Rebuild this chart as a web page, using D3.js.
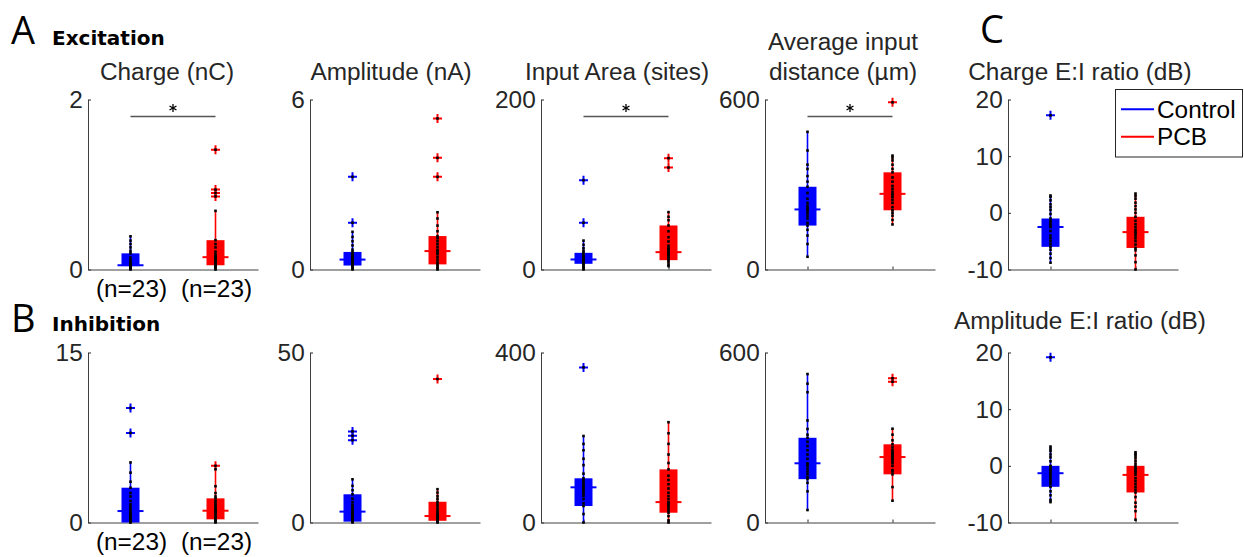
<!DOCTYPE html>
<html>
<head>
<meta charset="utf-8">
<script src="https://cdn.jsdelivr.net/npm/d3@7"></script>
<style>
  body { margin: 0; background: #fff; }
</style>
</head>
<body>
<script>

// groups
var groups = ["Control", "PCB"];
var colors = ["#0000ff", "#ff0000"];

// titles over each column, tick values, significance bar level (null = none)
var titlesExc = [["Charge (nC)"], ["Amplitude (nA)"], ["Input Area (sites)"], ["Average input", "distance (µm)"], ["Charge E:I ratio (dB)"]];
var titlesInh = [[], [], [], [], ["Amplitude E:I ratio (dB)"]];
var ticksExc = [[0, 2], [0, 6], [0, 200], [0, 600], [-10, 0, 10, 20]];
var ticksInh = [[0, 15], [0, 50], [0, 400], [0, 600], [-10, 0, 10, 20]];
var sigExc = [1.8, null, 180, 540, null];
var sigInh = [null, null, null, null, null];
var nLabels = ["(n=23)", "(n=23)"];

// box stats per group: [whisker low, q1, median, q3, whisker high]
// points per group (23 cells each), outliers are the ones outside the whiskers

// --- Excitation
var excChargeBox = [[0, 0.04, 0.05, 0.19, 0.39], [0, 0.05, 0.145, 0.345, 0.69]];
var excChargePts = [
  [0, 0.01, 0.02, 0.02, 0.03, 0.04, 0.04, 0.045, 0.05, 0.05, 0.05, 0.05, 0.06, 0.07, 0.09, 0.11, 0.14, 0.19, 0.22, 0.26, 0.30, 0.34, 0.39],
  [0, 0.02, 0.03, 0.04, 0.05, 0.06, 0.08, 0.10, 0.12, 0.13, 0.14, 0.145, 0.16, 0.18, 0.21, 0.26, 0.30, 0.345, 0.69, 0.86, 0.90, 0.94, 1.41]
];

var excAmpBox = [[0, 0.14, 0.35, 0.62, 1.33], [0, 0.18, 0.65, 1.18, 2.02]];
var excAmpPts = [
  [0, 0.05, 0.1, 0.14, 0.18, 0.22, 0.26, 0.3, 0.33, 0.35, 0.36, 0.4, 0.45, 0.5, 0.55, 0.62, 0.7, 0.85, 1.0, 1.15, 1.33, 1.65, 3.27],
  [0, 0.05, 0.12, 0.18, 0.25, 0.35, 0.45, 0.55, 0.6, 0.65, 0.7, 0.8, 0.9, 1.0, 1.1, 1.18, 1.35, 1.55, 1.8, 2.02, 3.27, 3.94, 5.33]
];

var excAreaBox = [[0, 6.7, 11.8, 19.6, 34], [4, 11, 20.4, 51.8, 67.5]];
var excAreaPts = [
  [0, 2, 3, 5, 6.7, 7, 8, 9, 10, 11, 11.8, 12, 13, 14, 16, 18, 19.6, 22, 25, 29, 34, 55, 105],
  [4, 6, 9, 11, 13, 15, 17, 18, 19, 20.4, 22, 24, 25, 28, 33, 38, 45, 51.8, 58, 67.5, 120, 131, 62]
];

var excDistBox = [[45, 155, 212, 292, 486], [159, 209, 267, 343, 402]];
var excDistPts = [
  [45, 90, 120, 140, 155, 165, 180, 190, 200, 208, 212, 218, 225, 235, 250, 270, 292, 310, 330, 355, 370, 420, 486],
  [159, 175, 190, 200, 209, 220, 235, 245, 255, 262, 267, 275, 285, 295, 310, 325, 343, 355, 370, 385, 395, 402, 590]
];

var chargeRatioBox = [[-8.8, -6.0, -2.5, -1.0, 3.06], [-10, -6.2, -3.4, -0.7, 3.4]];
var chargeRatioPts = [
  [-8.8, -8.0, -7.2, -6.5, -6.0, -5.5, -5.0, -4.5, -4.0, -3.2, -2.5, -2.2, -1.8, -1.4, -1.0, -0.2, 0.5, 1.0, 1.5, 2.2, 2.8, 3.06, 17.2],
  [-10, -8.7, -7.5, -6.6, -6.2, -5.6, -5.0, -4.5, -4.0, -3.6, -3.4, -3.0, -2.5, -2.0, -1.4, -0.7, 0.0, 0.6, 1.2, 1.8, 2.5, 3.0, 3.4]
];

// --- Inhibition
var inhChargeBox = [[0, 0, 1.01, 3.07, 5.3], [0, 0.28, 1.04, 2.13, 4.7]];
var inhChargePts = [
  [0, 0.05, 0.1, 0.2, 0.3, 0.4, 0.5, 0.6, 0.7, 0.85, 1.01, 1.2, 1.4, 1.6, 1.9, 2.3, 2.6, 3.07, 3.6, 4.4, 5.3, 7.9, 10.1],
  [0, 0.1, 0.2, 0.28, 0.4, 0.5, 0.65, 0.8, 0.9, 1.0, 1.04, 1.1, 1.25, 1.4, 1.55, 1.7, 1.9, 2.13, 2.3, 2.6, 3.2, 4.7, 5.0]
];

var inhAmpBox = [[0, 0.25, 3.2, 8.3, 12.7], [0, 0.5, 1.9, 6.1, 9.8]];
var inhAmpPts = [
  [0, 0.25, 0.6, 1.0, 1.2, 1.5, 2.0, 2.5, 2.9, 3.2, 3.5, 4.0, 4.6, 5.2, 6.0, 7.0, 8.3, 9.5, 10.8, 12.7, 24.2, 25.5, 26.8],
  [0, 0.2, 0.5, 0.8, 1.0, 1.2, 1.4, 1.6, 1.8, 1.9, 2.1, 2.5, 3.0, 3.5, 4.1, 4.8, 5.5, 6.1, 7.0, 7.8, 8.8, 9.8, 42.2]
];

var inhAreaBox = [[0, 38.8, 82.8, 104, 203.5], [0, 23, 48, 125, 236]];
var inhAreaPts = [
  [0, 20, 38.8, 45, 55, 62, 68, 72, 76, 80, 82.8, 85, 90, 95, 100, 104, 115, 135, 150, 170, 185, 203.5, 365],
  [0, 5, 15, 23, 28, 33, 38, 42, 45, 48, 55, 62, 70, 80, 90, 100, 110, 125, 140, 160, 185, 210, 236]
];

var inhDistBox = [[44, 153, 209, 299, 524], [77, 170, 231, 276, 331]];
var inhDistPts = [
  [44, 110, 140, 153, 160, 170, 180, 190, 200, 205, 209, 225, 240, 255, 270, 285, 299, 310, 330, 360, 460, 490, 524],
  [77, 125, 170, 180, 185, 200, 210, 215, 222, 226, 231, 236, 240, 245, 250, 255, 265, 276, 290, 310, 331, 497, 509]
];

var ampRatioBox = [[-6.4, -3.7, -1.3, 0, 3.4], [-9.5, -4.7, -1.6, 0, 2.4]];
var ampRatioPts = [
  [-6.4, -6.0, -5.2, -4.5, -3.7, -3.2, -2.8, -2.4, -2.0, -1.6, -1.3, -1.0, -0.7, -0.4, -0.1, 0.0, 0.8, 1.5, 2.0, 2.6, 3.0, 3.4, 19.15],
  [-9.5, -8.0, -7.2, -6.5, -5.5, -4.7, -4.2, -3.7, -3.2, -2.7, -2.2, -1.6, -1.2, -0.9, -0.6, -0.3, 0.0, 0.4, 0.9, 1.4, 1.8, 2.1, 2.4]
];


// layout
var width = 1244, height = 557;
var axX = [88, 310, 541, 765, 1008];
var axW = 170, axH = 170;
var rowTop = [99.5, 352.5];
var titleCx = [167, 391, 617, 843, 1080];
var stretch = "scale(1.06,1)";
var sans = "Liberation Sans, Arial, sans-serif";

var rows = [
  { box: [excChargeBox, excAmpBox, excAreaBox, excDistBox, chargeRatioBox],
    pts: [excChargePts, excAmpPts, excAreaPts, excDistPts, chargeRatioPts],
    ticks: ticksExc, titles: titlesExc, sig: sigExc, titleY: 79.5 },
  { box: [inhChargeBox, inhAmpBox, inhAreaBox, inhDistBox, ampRatioBox],
    pts: [inhChargePts, inhAmpPts, inhAreaPts, inhDistPts, ampRatioPts],
    ticks: ticksInh, titles: titlesInh, sig: sigInh, titleY: 329 }
];

var svg = d3.select("body").append("svg")
    .attr("width", width)
    .attr("height", height)
    .attr("font-family", sans);

svg.append("rect").attr("width", width).attr("height", height).attr("fill", "#fff");

// small helper for the slightly wide text of the figure
function label(x, y, s, anchor, size, fill) {
    return svg.append("text")
        .attr("transform", "translate(" + x + "," + y + ") " + stretch)
        .attr("text-anchor", anchor)
        .attr("font-family", sans)
        .attr("font-size", size)
        .attr("fill", fill || "#262626")
        .text(s);
}

var x = d3.scaleLinear().domain([0.5, 2.5]).range([0, axW]);

rows.forEach(function (row, r) {
    var top = rowTop[r];

    row.box.forEach(function (boxes, p) {
        var ext = d3.extent(row.ticks[p]);
        var y = d3.scaleLinear().domain(ext).range([top + axH, top]);
        var g = svg.append("g").attr("transform", "translate(" + axX[p] + ",0)");

        // axes
        var ya = g.append("g")
            .attr("color", "#262626")
            .call(d3.axisLeft(y).tickValues(row.ticks[p]).tickSize(-3).tickSizeOuter(0).tickPadding(5)
                  .tickFormat(function (d) { return String(d); }));
        ya.select(".domain").attr("stroke", "#404040");
        ya.selectAll("text")
            .attr("font-family", sans)
            .attr("font-size", 23)
            .attr("dy", "0.35em")
            .attr("transform", stretch);

        var xa = g.append("g")
            .attr("transform", "translate(0," + (top + axH) + ")")
            .attr("color", "#262626")
            .call(d3.axisBottom(x).tickValues([1, 2]).tickSize(-3).tickSizeOuter(0).tickFormat(""));
        xa.select(".domain").attr("stroke", "#404040");

        // title
        row.titles[p].forEach(function (t, i) {
            var n = row.titles[p].length;
            label(titleCx[p], row.titleY - (n - 1 - i) * 30, t, "middle", 23);
        });

        // significance bar
        if (row.sig[p] !== null) {
            var sy = y(row.sig[p]);
            g.append("line")
                .attr("x1", x(1)).attr("x2", x(2))
                .attr("y1", sy).attr("y2", sy)
                .attr("stroke", "#555").attr("stroke-width", 1.5);
            var sx = (x(1) + x(2)) / 2;
            [90, 30, 150].forEach(function (a) {
                var rad = a * Math.PI / 180;
                g.append("line")
                    .attr("x1", sx - 4 * Math.cos(rad)).attr("x2", sx + 4 * Math.cos(rad))
                    .attr("y1", sy - 8.5 - 4 * Math.sin(rad)).attr("y2", sy - 8.5 + 4 * Math.sin(rad))
                    .attr("stroke", "#000").attr("stroke-width", 1.3);
            });
        }

        // boxes
        boxes.forEach(function (b, k) {
            var cx = x(k + 1), col = colors[k];
            var pts = row.pts[p][k];

            g.append("line")
                .attr("x1", cx).attr("x2", cx)
                .attr("y1", y(b[0])).attr("y2", y(b[4]))
                .attr("stroke", col).attr("stroke-width", 1.6);

            g.append("rect")
                .attr("x", cx - 9).attr("width", 18)
                .attr("y", y(b[3])).attr("height", Math.max(1, y(b[1]) - y(b[3])))
                .attr("fill", col);

            g.append("line")
                .attr("x1", cx - 13).attr("x2", cx + 13)
                .attr("y1", y(b[2])).attr("y2", y(b[2]))
                .attr("stroke", col).attr("stroke-width", 2);

            // outliers as +
            var out = pts.filter(function (v) { return v > b[4] || v < b[0]; });
            out.forEach(function (v) {
                g.append("path")
                    .attr("d", "M" + (cx - 4.5) + "," + y(v) + "H" + (cx + 4.5) +
                               "M" + cx + "," + (y(v) - 4.5) + "V" + (y(v) + 4.5))
                    .attr("stroke", col).attr("stroke-width", 2).attr("fill", "none");
            });

            // every cell as a black dot
            g.selectAll(null)
                .data(pts)
                .enter().append("rect")
                .attr("x", cx - 1.3).attr("y", function (v) { return y(v) - 1.3; })
                .attr("width", 2.6).attr("height", 2.6)
                .attr("fill", "#000");

            // n labels under first column
            if (p === 0) {
                label(axX[p] + cx + 1, top + axH + 27, nLabels[k], "middle", 23, "#000");
            }
        });
    });
});

// legend in panel C
var lg = svg.append("g");
lg.append("rect")
    .attr("x", 1115.5).attr("y", 89.5).attr("width", 127).attr("height", 67.5)
    .attr("fill", "#fff").attr("stroke", "#262626").attr("stroke-width", 1);
groups.forEach(function (name, i) {
    var ly = 109.3 + i * 27.4;
    lg.append("line")
        .attr("x1", 1121).attr("x2", 1154)
        .attr("y1", ly).attr("y2", ly)
        .attr("stroke", colors[i]).attr("stroke-width", 2);
    label(1157, ly + 8.3, name, "start", 23, "#000");
});

// panel letters and row headings
[["A", 11, 44], ["B", 11, 332], ["C", 980, 43]].forEach(function (d) {
    svg.append("text")
        .attr("x", d[1]).attr("y", d[2])
        .attr("font-family", "Open Sans, sans-serif")
        .attr("font-size", 38)
        .attr("fill", "#000")
        .text(d[0]);
});
[["Excitation", 52, 45], ["Inhibition", 52, 331]].forEach(function (d) {
    svg.append("text")
        .attr("x", d[1]).attr("y", d[2])
        .attr("font-family", "DejaVu Sans, sans-serif")
        .attr("font-weight", "bold")
        .attr("font-size", 20)
        .attr("fill", "#000")
        .text(d[0]);
});

</script>
</body>
</html>
